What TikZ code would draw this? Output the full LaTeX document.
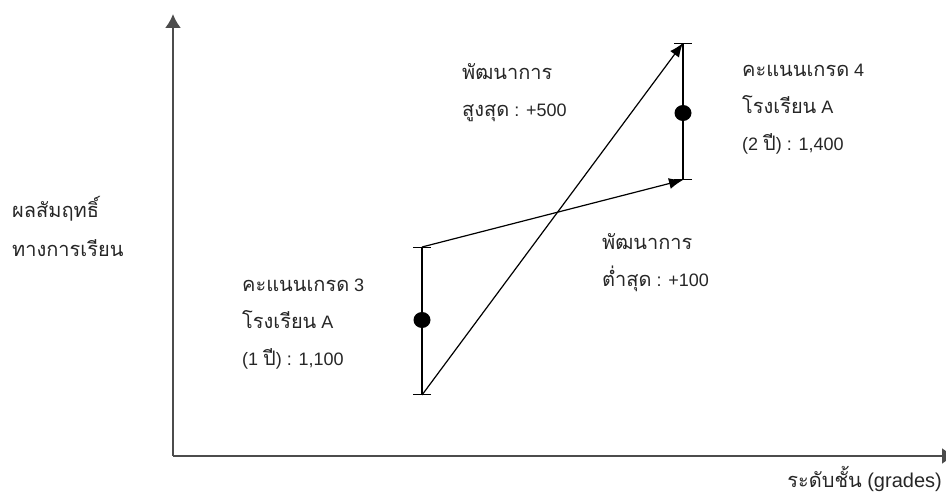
\documentclass[tikz,border=0pt]{standalone}
\usepackage{fontspec}
\setmainfont{Liberation Sans}
\newfontfamily\thaifont[Script=Thai]{Loma}
\newcommand\thaitxt[1]{{\thaifont\fontsize{20}{37}\selectfont #1}}
\usetikzlibrary{arrows.meta,positioning,shapes.geometric}

\begin{document}
\begin{tikzpicture}[
    x=1pt, y=-1pt,
    txt/.style={font=\fontsize{18}{37}\selectfont, align=left, anchor=base west, inner sep=0pt, text=black!85},
    axis/.style={line width=2pt, draw=black!70},
    errbar/.style={{Bar[width=18pt]}-{Bar[width=18pt]}, line width=1.2pt},
    arrow/.style={-{Latex[length=14pt,width=11pt]}, line width=1.2pt},
    dot/.style={ellipse, fill, inner sep=0pt, minimum width=17pt, minimum height=16pt}
]
\useasboundingbox (0,0) rectangle (946,494);

% Axes
\coordinate (origin) at (173,456);
\coordinate (ytop) at (173,14);
\coordinate (xend) at (956,456);
\draw[axis, -{Latex[length=14pt,width=16pt]}] (origin) -- (ytop);
\draw[axis, -{Latex[length=14pt,width=16pt]}] (origin) -- (xend);

% Axis labels (anchored on the last line)
\node[txt, font=\fontsize{18}{39}\selectfont] (ylabel) at (12,257) {\thaitxt{ผลสัมฤทธิ์}\\\thaitxt{ทางการเรียน}};
\node[txt, font=\fontsize{20}{37}\selectfont, anchor=base east] (xlabel) at (942,487) {\thaitxt{ระดับชั้น} (grades)};

% Grade 3
\coordinate (low3) at (422,395);
\coordinate (high3) at (422,247);
\draw[errbar] (low3) -- (high3);
\node[dot] (mean3) at (422,320) {};
\node[txt] (grade3) at (242,366) {\thaitxt{คะแนนเกรด} 3\\\thaitxt{โรงเรียน} A\\(1 \thaitxt{ปี}) : 1,100};

% Grade 4
\coordinate (low4) at (683,180);
\coordinate (high4) at (683,43);
\draw[errbar] (low4) -- (high4);
\node[dot] (mean4) at (683,113) {};
\node[txt] (grade4) at (742,151) {\thaitxt{คะแนนเกรด} 4\\\thaitxt{โรงเรียน} A\\(2 \thaitxt{ปี}) : 1,400};

% Growth arrows
\draw[arrow] (low3) -- (high4);
\draw[arrow] (high3) -- (low4);

% Growth labels
\node[txt] (maxgrowth) at (462,117) {\thaitxt{พัฒนาการ}\\\thaitxt{สูงสุด} : +500};
\node[txt] (mingrowth) at (602,287) {\thaitxt{พัฒนาการ}\\\thaitxt{ต่ำสุด} : +100};

\end{tikzpicture}
\end{document}
